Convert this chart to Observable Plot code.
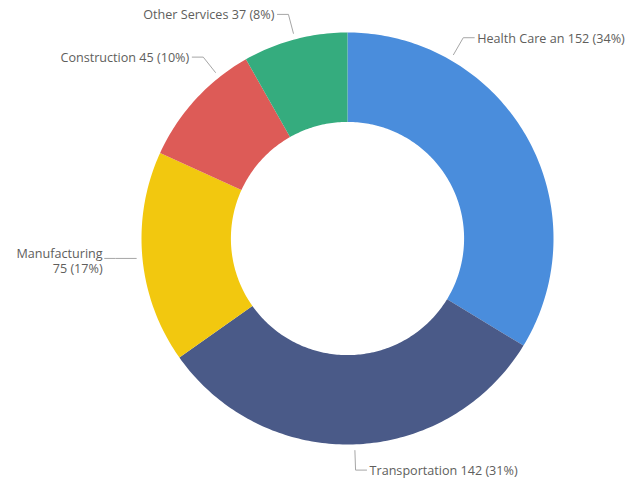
<!DOCTYPE html>
<html>
<head>
<meta charset="utf-8">
<script src="https://cdn.jsdelivr.net/npm/d3@7"></script>
<script src="https://cdn.jsdelivr.net/npm/@observablehq/plot@0.6"></script>
<style>
  html, body { margin: 0; padding: 0; background: #fff; }
  #chart { width: 633px; height: 482px; }
</style>
</head>
<body>
<div id="chart"></div>
<script>
// ---- data ----
const categories = ["Health Care an", "Transportation", "Manufacturing", "Construction", "Other Services"];
const values = [152, 142, 75, 45, 37];
const colors = ["#4A8DDC", "#4A5A88", "#F2C80F", "#DD5B57", "#35AC7E"];
const wrapLabel = [false, false, true, false, false];
// leader-line shift (degrees) from slice mid-angle, as the original label placement did
const leaderShift = [-30.7, 0, 0, 9, 0];

// ---- layout ----
const W = 633, H = 482;
const cx = 347, cy = 238, R = 206;
const innerR = 0.566;
const total = d3.sum(values);
const FS = 12.6;

const slices = [];
let acc = 0;
categories.forEach((name, i) => {
  const a0 = acc / total * 2 * Math.PI;
  acc += values[i];
  const a1 = acc / total * 2 * Math.PI;
  slices.push({name, value: values[i], a0, a1, i});
});

const pt = (r, a) => [r * Math.sin(a), r * Math.cos(a)];

const polyPts = [];
for (const s of slices) {
  const n = Math.max(10, Math.ceil((s.a1 - s.a0) * 60));
  for (let k = 0; k <= n; k++) {
    const a = s.a0 + (s.a1 - s.a0) * k / n;
    const [x, y] = pt(1, a);
    polyPts.push({name: s.name, x, y});
  }
  for (let k = n; k >= 0; k--) {
    const a = s.a0 + (s.a1 - s.a0) * k / n;
    const [x, y] = pt(innerR, a);
    polyPts.push({name: s.name, x, y});
  }
}

// leader lines and labels
const leaderPts = [];
const labels = [];
const hLen = 11 / R;
for (const s of slices) {
  const mid = (s.a0 + s.a1) / 2 + leaderShift[s.i] * Math.PI / 180;
  const p1 = pt(1.03, mid);
  const p2 = s.i === 2 ? [p1[0] - 0.1, p1[1]] : pt(1.125, mid);
  const right = Math.sin(mid) > 0;
  const p3 = [p2[0] + (right ? hLen : -hLen), p2[1]];
  leaderPts.push({name: s.name, x: p1[0], y: p1[1]});
  leaderPts.push({name: s.name, x: p2[0], y: p2[1]});
  leaderPts.push({name: s.name, x: p3[0], y: p3[1]});
  const pct = Math.round(s.value / total * 100);
  const text = s.name + (wrapLabel[s.i] ? "\n" : " ") + s.value + " (" + pct + "%)";
  labels.push({x: p3[0], y: p3[1], text, right, wrap: wrapLabel[s.i]});
}

const plot = Plot.plot({
  width: W,
  height: H,
  margin: 0,
  x: {domain: [-1, 1], range: [cx - R, cx + R], axis: null},
  y: {domain: [-1, 1], range: [cy + R, cy - R], axis: null},
  color: {domain: categories, range: colors},
  style: {fontFamily: "'Segoe UI', 'Open Sans', sans-serif", background: "#fff"},
  marks: [
    Plot.line(polyPts, {x: "x", y: "y", z: "name", fill: "name", stroke: "none", curve: "linear-closed"}),
    Plot.line(leaderPts, {x: "x", y: "y", z: "name", stroke: "#A6A6A6", strokeWidth: 1}),
    Plot.text(labels.filter(d => d.right), {x: "x", y: "y", text: "text", textAnchor: "start", dx: 3, dy: 1, fill: "#605E5C", fontSize: FS}),
    Plot.text(labels.filter(d => !d.right && !d.wrap), {x: "x", y: "y", text: "text", textAnchor: "end", dx: -3, dy: 1, fill: "#605E5C", fontSize: FS}),
    Plot.text(labels.filter(d => d.wrap), {x: "x", y: "y", text: "text", textAnchor: "end", dx: -2, dy: 2, lineHeight: 1.22, fill: "#605E5C", fontSize: FS})
  ]
});
document.getElementById("chart").appendChild(plot);
</script>
</body>
</html>
